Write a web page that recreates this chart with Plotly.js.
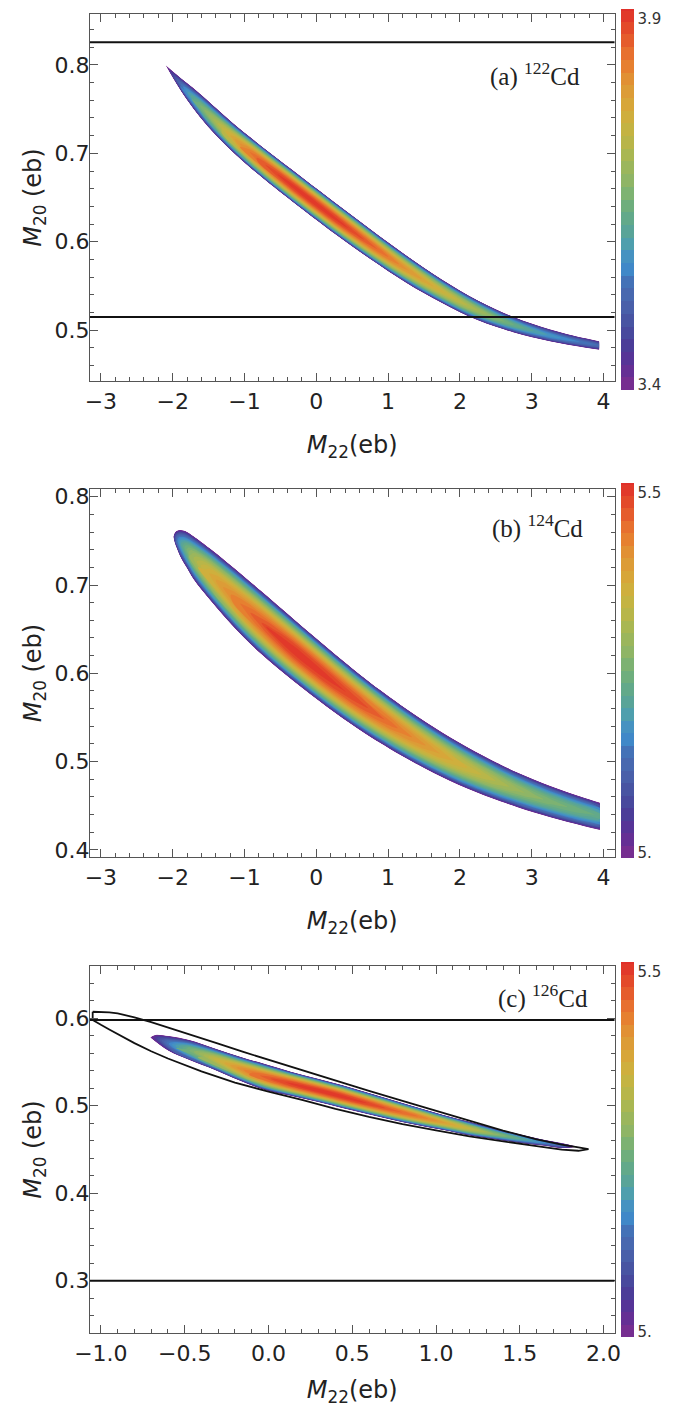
<!DOCTYPE html>
<html>
<head>
<meta charset="utf-8">
<script src="https://cdn.plot.ly/plotly-3.0.1.min.js"></script>
<style>
html, body { margin: 0; padding: 0; background: #ffffff; }
#chart { width: 687px; height: 1407px; }
</style>
</head>
<body>
<div id="chart"></div>
<script>
// ---------------- DATA ----------------
// Fractional position across each band (0 = lower edge, 1 = upper edge)
const crossT = [0, 0.04, 0.1, 0.2, 0.3, 0.4, 0.5, 0.6, 0.7, 0.8, 0.9, 0.96, 1];
// Share of the column's peak value (above the colour-bar minimum) reached there
const crossF = [0, 0.2, 0.42, 0.66, 0.84, 0.95, 1, 0.95, 0.84, 0.66, 0.42, 0.2, 0];

// (a) 122Cd : upper and lower edge of the band and peak value per column
const m22A  = [-2.10, -1.95, -1.80, -1.62, -1.40, -1.15, -0.90, -0.65, -0.40, -0.20, 0.00, 0.25, 0.50, 0.75, 1.00, 1.25, 1.50, 1.75, 2.00, 2.25, 2.50, 2.75, 3.00, 3.25, 3.50, 3.75, 3.94];
const upA   = [0.8000, 0.7895, 0.7795, 0.7675, 0.7515, 0.7335, 0.7170, 0.7010, 0.6853, 0.6729, 0.6605, 0.6450, 0.6297, 0.6144, 0.5993, 0.5847, 0.5706, 0.5572, 0.5448, 0.5335, 0.5235, 0.5148, 0.5073, 0.5008, 0.4953, 0.4906, 0.4874];
const loA   = [0.8000, 0.7790, 0.7603, 0.7409, 0.7204, 0.7004, 0.6824, 0.6656, 0.6496, 0.6370, 0.6246, 0.6093, 0.5946, 0.5803, 0.5666, 0.5536, 0.5416, 0.5306, 0.5200, 0.5110, 0.5036, 0.4972, 0.4918, 0.4872, 0.4833, 0.4800, 0.4777];
const peakA = [3.40, 3.50, 3.58, 3.65, 3.71, 3.78, 3.84, 3.875, 3.895, 3.90, 3.90, 3.895, 3.88, 3.86, 3.835, 3.805, 3.78, 3.755, 3.73, 3.70, 3.665, 3.635, 3.605, 3.58, 3.56, 3.545, 3.535];
const zRangeA = [3.4, 3.9];
const cbTickA = ['3.4', '3.9'];
const hLinesA = [0.8257, 0.5147];

// (b) 124Cd
const m22B  = [-1.99, -1.97, -1.94, -1.90, -1.85, -1.80, -1.71, -1.48, -1.24, -1.01, -0.78, -0.55, -0.32, -0.08, 0.15, 0.38, 0.61, 0.89, 1.17, 1.41, 1.64, 1.87, 2.10, 2.34, 2.57, 2.80, 3.03, 3.27, 3.50, 3.73, 3.95];
const upB   = [0.7547, 0.7592, 0.7614, 0.7623, 0.7617, 0.7600, 0.7552, 0.7412, 0.7255, 0.7099, 0.6940, 0.6779, 0.6618, 0.6451, 0.6293, 0.6137, 0.5985, 0.5810, 0.5645, 0.5510, 0.5388, 0.5273, 0.5165, 0.5060, 0.4965, 0.4878, 0.4798, 0.4721, 0.4654, 0.4592, 0.4537];
const loB   = [0.7547, 0.7475, 0.7410, 0.7330, 0.7255, 0.7190, 0.7065, 0.6830, 0.6605, 0.6405, 0.6228, 0.6065, 0.5913, 0.5760, 0.5618, 0.5483, 0.5356, 0.5211, 0.5074, 0.4966, 0.4869, 0.4779, 0.4696, 0.4617, 0.4548, 0.4484, 0.4424, 0.4366, 0.4315, 0.4269, 0.4227];
const peakB = [5.0, 5.08, 5.14, 5.19, 5.225, 5.255, 5.30, 5.37, 5.41, 5.44, 5.465, 5.485, 5.50, 5.50, 5.495, 5.485, 5.475, 5.455, 5.43, 5.41, 5.39, 5.37, 5.35, 5.33, 5.31, 5.29, 5.275, 5.26, 5.25, 5.24, 5.23];
const zRangeB = [5.0, 5.5];
const cbTickB = ['5.', '5.5'];

// (c) 126Cd
const m22C  = [-0.705, -0.675, -0.594, -0.472, -0.32, -0.169, -0.02, 0.134, 0.29, 0.438, 0.59, 0.741, 0.89, 1.044, 1.2, 1.348, 1.5, 1.651, 1.75, 1.845];
const upC   = [0.5780, 0.5809, 0.5796, 0.5750, 0.5655, 0.5560, 0.5476, 0.5389, 0.5311, 0.5237, 0.5151, 0.5065, 0.4981, 0.4894, 0.4816, 0.4741, 0.4673, 0.4608, 0.4573, 0.4531];
const loC   = [0.5780, 0.5735, 0.5624, 0.5522, 0.5409, 0.5284, 0.5180, 0.5113, 0.5045, 0.4975, 0.4905, 0.4837, 0.4777, 0.4722, 0.4660, 0.4617, 0.4575, 0.4542, 0.4515, 0.4531];
const peakC = [5.0, 5.05, 5.15, 5.25, 5.34, 5.41, 5.46, 5.49, 5.50, 5.50, 5.485, 5.46, 5.435, 5.39, 5.34, 5.28, 5.22, 5.16, 5.12, 5.0];
const zRangeC = [5.0, 5.5];
const cbTickC = ['5.', '5.5'];
const hLinesC = [0.598, 0.3];
// black closed contour in (c): upper edge left->right, lower edge right->left
const ellUpX = [-1.049, -1.0, -0.95, -0.9, -0.85, -0.8, -0.7, -0.6, -0.45, -0.3, -0.15, 0.0, 0.2, 0.4, 0.6, 0.8, 1.0, 1.2, 1.4, 1.6, 1.75, 1.85, 1.91];
const ellUpY = [0.6074, 0.6075, 0.6068, 0.6055, 0.6035, 0.601, 0.5955, 0.5895, 0.5805, 0.571, 0.5615, 0.5525, 0.5405, 0.5285, 0.517, 0.5055, 0.494, 0.4825, 0.4715, 0.4615, 0.4555, 0.4525, 0.4505];
const ellLoX = [1.85, 1.75, 1.6, 1.4, 1.2, 1.0, 0.8, 0.6, 0.4, 0.2, 0.0, -0.2, -0.4, -0.6, -0.7, -0.8, -0.9, -0.95, -1.0, -1.049, -1.049];
const ellLoY = [0.4485, 0.4497, 0.4537, 0.4595, 0.465, 0.4717, 0.479, 0.4872, 0.4965, 0.5068, 0.516, 0.5265, 0.5393, 0.554, 0.5622, 0.5715, 0.5815, 0.5872, 0.5925, 0.598, 0.6074];

const panelLabels = ['(a) <sup>122</sup>Cd', '(b) <sup>124</sup>Cd', '(c) <sup>126</sup>Cd'];
const xTitle = '<i>M</i><sub>22</sub>(eb)';
const yTitle = '<i>M</i><sub>20</sub> (eb)';

// ---------------- STYLE ----------------
const W = 687, H = 1407;
const colorscale = [
  [0.00, '#7E2E8E'], [0.07, '#5B3096'], [0.12, '#4A3E98'], [0.17, '#4750A0'],
  [0.23, '#4A63AB'], [0.28, '#4570B5'], [0.31, '#3F86C9'], [0.355, '#4794C0'],
  [0.38, '#4D9EAF'], [0.42, '#5AA596'], [0.47, '#68AC82'], [0.51, '#7AB274'],
  [0.55, '#8FB566'], [0.60, '#A1B757'], [0.64, '#B4B64B'], [0.68, '#C3B442'],
  [0.72, '#D0AE3D'], [0.76, '#D9A338'], [0.81, '#E09435'], [0.84, '#E68430'],
  [0.877, '#E7742F'], [0.91, '#E5602D'], [0.95, '#E34A2A'], [1.00, '#E0302A']
];
const sans = 'DejaVu Sans, Liberation Sans, Arial, sans-serif';
const serif = 'Liberation Serif, Times New Roman, serif';
const axisCol = '#555555';

const plotLeft = 90, plotRight = 614.5;
const panelsPx = [ {top: 14, bottom: 381}, {top: 489, bottom: 857}, {top: 966, bottom: 1333} ];
const cbPx = [ {top: 9, bottom: 390}, {top: 483, bottom: 858}, {top: 962, bottom: 1337} ];

function buildBand(m22, up, lo, peak, zmin) {
  const xs = [], ys = [], zs = [];
  for (let j = 0; j < crossT.length; j++) {
    const rx = [], ry = [], rz = [];
    for (let i = 0; i < m22.length; i++) {
      rx.push(m22[i]);
      ry.push(lo[i] + crossT[j] * (up[i] - lo[i]));
      rz.push(zmin + crossF[j] * (peak[i] - zmin));
    }
    xs.push(rx); ys.push(ry); zs.push(rz);
  }
  return {xs, ys, zs};
}

const hiddenCarpetAxis = {
  showgrid: false, showline: false, showticklabels: 'none',
  startline: false, endline: false, minorgridcount: 0,
  tickmode: 'array', tickvals: [], ticktext: [],
  gridcolor: 'rgba(0,0,0,0)', linecolor: 'rgba(0,0,0,0)'
};

const traces = [];
function addBand(id, xa, ya, m22, up, lo, peak, zr, cbText, cb) {
  const g = buildBand(m22, up, lo, peak, zr[0]);
  traces.push({
    type: 'carpet', carpet: id, a: m22, b: crossT, x: g.xs, y: g.ys,
    xaxis: xa, yaxis: ya,
    aaxis: Object.assign({smoothing: 1}, hiddenCarpetAxis),
    baxis: Object.assign({smoothing: 0}, hiddenCarpetAxis),
    hoverinfo: 'skip'
  });
  const span = zr[1] - zr[0];
  const lenPx = cb.bottom - cb.top;
  traces.push({
    type: 'contourcarpet', carpet: id, a: m22, b: crossT, z: g.zs,
    xaxis: xa, yaxis: ya,
    autocontour: false,
    contours: {start: zr[0], end: zr[1], size: span / 30, coloring: 'fill', showlines: false},
    line: {width: 0},
    colorscale: colorscale, zmin: zr[0], zmax: zr[1],
    colorbar: {
      x: 621 / W, xanchor: 'left', xpad: 0, ypad: 0,
      y: 1 - cb.top / H, yanchor: 'top',
      len: lenPx, lenmode: 'pixels', thickness: 13, thicknessmode: 'pixels',
      outlinewidth: 0, ticks: '',
      tickvals: [zr[0] + span * 5 / lenPx, zr[1] - span * 10 / lenPx],
      ticktext: cbText,
      tickfont: {family: sans, size: 15, color: '#333333'}
    }
  });
}

addBand('ca', 'x', 'y', m22A, upA, loA, peakA, zRangeA, cbTickA, cbPx[0]);
addBand('cb', 'x2', 'y2', m22B, upB, loB, peakB, zRangeB, cbTickB, cbPx[1]);
addBand('cc', 'x3', 'y3', m22C, upC, loC, peakC, zRangeC, cbTickC, cbPx[2]);

traces.push({
  type: 'scatter', mode: 'lines', xaxis: 'x3', yaxis: 'y3',
  x: ellUpX.concat(ellLoX), y: ellUpY.concat(ellLoY),
  line: {color: '#111111', width: 1.8}, hoverinfo: 'skip', showlegend: false
});

function xAxis(anchor, range, dtick, minorD, fmt) {
  return {
    anchor: anchor, domain: [plotLeft / W, plotRight / W], range: range,
    tickmode: 'linear', tick0: 0, dtick: dtick, tickformat: fmt,
    ticks: 'inside', ticklen: 8, tickwidth: 1, tickcolor: axisCol,
    minor: {dtick: minorD, ticks: 'inside', ticklen: 4, tickwidth: 1, tickcolor: axisCol, showgrid: false},
    showline: true, linecolor: axisCol, linewidth: 1.2, mirror: 'allticks',
    showgrid: false, zeroline: false,
    tickfont: {family: sans, size: 22, color: '#222222'},
    title: {text: xTitle, font: {family: sans, size: 24, color: '#222222'}, standoff: 23}
  };
}
function yAxis(anchor, p, range) {
  return {
    anchor: anchor, domain: [1 - p.bottom / H, 1 - p.top / H], range: range,
    tickmode: 'linear', tick0: 0, dtick: 0.1, tickformat: '.1f',
    ticks: 'inside', ticklen: 8, tickwidth: 1, tickcolor: axisCol,
    minor: {dtick: 0.02, ticks: 'inside', ticklen: 4, tickwidth: 1, tickcolor: axisCol, showgrid: false},
    showline: true, linecolor: axisCol, linewidth: 1.2, mirror: 'allticks',
    showgrid: false, zeroline: false, ticklabelstandoff: -5,
    tickfont: {family: sans, size: 22, color: '#222222'},
    title: {text: yTitle, font: {family: sans, size: 24, color: '#222222'}, standoff: 6}
  };
}

const shapes = [];
hLinesA.forEach(v => shapes.push({type: 'line', xref: 'x domain', yref: 'y', x0: 0, x1: 1, y0: v, y1: v, line: {color: '#111111', width: 2}}));
hLinesC.forEach(v => shapes.push({type: 'line', xref: 'x3 domain', yref: 'y3', x0: 0, x1: 1, y0: v, y1: v, line: {color: '#111111', width: 2}}));

const labelPos = [ {x: 582, y: 74}, {x: 585, y: 527}, {x: 590, y: 997} ];
const annotations = panelLabels.map((t, k) => ({
  text: t, xref: 'paper', yref: 'paper', x: labelPos[k].x / W, y: 1 - labelPos[k].y / H,
  xanchor: 'right', yanchor: 'middle', showarrow: false,
  font: {family: serif, size: 25, color: '#222222'}
}));

const layout = {
  width: W, height: H,
  margin: {l: 0, r: 0, t: 0, b: 0, pad: 0},
  paper_bgcolor: '#ffffff', plot_bgcolor: '#ffffff',
  showlegend: false,
  xaxis: xAxis('y', [-3.152, 4.153], 1, 0.2, 'd'),
  yaxis: yAxis('x', panelsPx[0], [0.4423, 0.8577]),
  xaxis2: xAxis('y2', [-3.152, 4.153], 1, 0.2, 'd'),
  yaxis2: yAxis('x2', panelsPx[1], [0.392, 0.8087]),
  xaxis3: xAxis('y3', [-1.065, 2.065], 0.5, 0.1, '.1f'),
  yaxis3: yAxis('x3', panelsPx[2], [0.2402, 0.6597]),
  shapes: shapes,
  annotations: annotations
};

Plotly.newPlot('chart', traces, layout, {staticPlot: true, displayModeBar: false});
</script>
</body>
</html>
